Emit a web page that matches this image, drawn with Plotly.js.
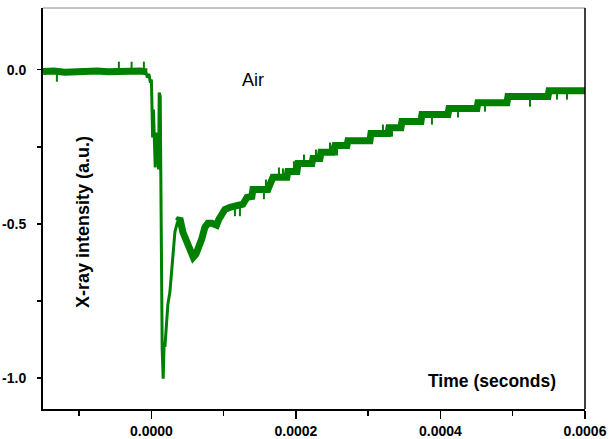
<!DOCTYPE html>
<html>
<head>
<meta charset="utf-8">
<script src="https://cdn.plot.ly/plotly-3.0.1.min.js"></script>
<style>html,body{margin:0;padding:0;background:#fff;}#chart{width:609px;height:439px;}</style>
</head>
<body>
<div id="chart"></div>
<script>
// Time values in microseconds, converted to seconds for the axis
// Baseline band (before the pulse)
const baseTimeUs = [-150, -135, -120, -105, -90, -75, -60, -45, -30, -15, -6];
const baseVal    = [-0.006, -0.004, -0.008, -0.005, -0.007, -0.004, -0.007, -0.005, -0.006, -0.004, -0.007];

// Fast drop and initial rebound (thin trace)
const dropTimeUs = [-7.6, -5.5, -3.5, -1.4, 0.0, 1.7, 2.8, 3.5, 5.3, 7.2, 9.0, 10.0, 10.8, 12.2, 13.1, 14.1, 14.9, 16.3, 17.6, 18.7, 21.0, 22.8, 25.6, 29.3, 32.5, 35.3, 38.1, 40.8];
const dropVal    = [-0.006, -0.026, -0.013, -0.042, -0.032, -0.220, -0.129, -0.184, -0.317, -0.204, -0.259, -0.323, -0.074, -0.087, -0.420, -0.679, -0.905, -1.002, -0.889, -0.899, -0.818, -0.760, -0.721, -0.605, -0.527, -0.501, -0.482, -0.498];

const recTimeUs = [36.7, 39.4, 43.6, 47.8, 50.9, 54.7, 57.9, 61.6, 64.8, 69.5, 74.0, 78.2, 83.7, 90.2, 93.4, 97.2, 101.7, 108.7, 117.0, 123.9, 126.6, 132.2, 139.1, 140.5, 161.2, 168.2, 187.5, 188.9, 201.4, 202.8, 222.1, 223.5, 233.2, 234.6, 251.2, 254.0, 270.6, 272.0, 302.4, 303.8, 327.3, 328.7, 345.3, 346.7, 373.0, 374.4, 410.4, 411.8, 450.5, 451.9, 492.0, 493.4, 548.8, 550.2, 600.0];
const recVal    = [-0.491, -0.482, -0.527, -0.550, -0.572, -0.598, -0.608, -0.598, -0.582, -0.550, -0.511, -0.498, -0.498, -0.504, -0.485, -0.469, -0.453, -0.446, -0.443, -0.440, -0.436, -0.414, -0.411, -0.388, -0.388, -0.349, -0.349, -0.330, -0.330, -0.304, -0.304, -0.288, -0.288, -0.268, -0.268, -0.246, -0.246, -0.230, -0.230, -0.207, -0.207, -0.188, -0.188, -0.168, -0.168, -0.145, -0.145, -0.126, -0.126, -0.107, -0.107, -0.087, -0.087, -0.068, -0.068];

// Noise spikes: time, band level, spike tip
const spikeTimeUs = [-130.8, -45.0, -27.4, -10.4, 115.6, 122.5, 155.7, 158.5, 176.5, 182.0, 197.2, 211.1, 227.7, 247.1, 256.8, 320.4, 332.9, 388.2, 424.2, 461.6, 523.9, 561.3, 575.1];
const spikeBase   = [-0.006, -0.006, -0.006, -0.006, -0.443, -0.440, -0.388, -0.388, -0.349, -0.349, -0.330, -0.304, -0.288, -0.268, -0.246, -0.207, -0.188, -0.145, -0.126, -0.107, -0.087, -0.068, -0.068];
const spikeTip    = [-0.039, 0.026, 0.026, 0.026, -0.475, -0.475, -0.420, -0.356, -0.317, -0.320, -0.297, -0.275, -0.259, -0.236, -0.278, -0.178, -0.217, -0.178, -0.155, -0.136, -0.120, -0.097, -0.097];

const xTickVals = [0, 0.0002, 0.0004, 0.0006];
const xTickText = ['0.0000', '0.0002', '0.0004', '0.0006'];
const yTickVals = [0, -0.5, -1.0];
const yTickText = ['0.0', '-0.5', '-1.0'];

const US = 1e-6;
const toS = a => a.map(v => v * US);
const GREEN = '#008000';
const bold = a => a.map(s => '<b>' + s + '</b>');

// spike segments separated by gaps
const spX = [], spY = [];
spikeTimeUs.forEach((t, i) => { spX.push(t * US, t * US, null); spY.push(spikeBase[i], spikeTip[i], null); });

const traces = [
  {x: toS(baseTimeUs), y: baseVal, mode: 'lines', line: {color: GREEN, width: 7}, hoverinfo: 'skip'},
  {x: toS(recTimeUs), y: recVal, mode: 'lines', line: {color: GREEN, width: 7}, hoverinfo: 'skip'},
  {x: toS(dropTimeUs), y: dropVal, mode: 'lines', line: {color: GREEN, width: 3}, hoverinfo: 'skip'},
  {x: spX, y: spY, mode: 'lines', connectgaps: false, line: {color: GREEN, width: 2}, hoverinfo: 'skip'}
];

const FONT = 'Liberation Sans, Arial, sans-serif';
const layout = {
  width: 609, height: 439,
  margin: {l: 43, r: 24, t: 8, b: 30, pad: 0},
  paper_bgcolor: '#fff', plot_bgcolor: '#fff',
  showlegend: false,
  font: {family: FONT, color: '#000'},
  xaxis: {
    range: [-0.00015, 0.0006], tickmode: 'array', tickvals: xTickVals, ticktext: bold(xTickText),
    ticks: 'outside', ticklen: 8, tickwidth: 1.5, tickcolor: '#000',
    showline: true, linecolor: '#000', linewidth: 2, showgrid: false, zeroline: false,
    tickfont: {family: FONT, size: 14, color: '#000'},
    ticklabelstandoff: 0,
    minor: {dtick: 0.0001, tick0: 0, ticks: 'outside', ticklen: 5, tickwidth: 1.5, tickcolor: '#000', showgrid: false}
  },
  yaxis: {
    range: [-1.1, 0.2], tickmode: 'array', tickvals: yTickVals, ticktext: bold(yTickText),
    ticks: 'outside', ticklen: 4, tickwidth: 1.5, tickcolor: '#000',
    showline: true, linecolor: '#000', linewidth: 2, showgrid: false, zeroline: false,
    tickfont: {family: FONT, size: 14, color: '#000'},
    ticklabelstandoff: 8,
    minor: {dtick: 0.25, tick0: 0, ticks: 'outside', ticklen: 4, tickwidth: 1.5, tickcolor: '#000', showgrid: false}
  },
  shapes: [
    {type: 'line', xref: 'paper', yref: 'paper', x0: 0, x1: 1, y0: 1, y1: 1, line: {color: '#888', width: 1}},
    {type: 'line', xref: 'paper', yref: 'paper', x0: 1, x1: 1, y0: 0, y1: 1, line: {color: '#000', width: 1.5}}
  ],
  annotations: [
    {text: 'Air', x: 0.0001405, y: -0.032, xref: 'x', yref: 'y', showarrow: false,
     font: {family: FONT, size: 18, color: '#000'}},
    {text: '<b>Time (seconds)</b>', x: 0.000562, y: -1.009, xref: 'x', yref: 'y', xanchor: 'right', showarrow: false,
     font: {family: FONT, size: 17.5, color: '#000'}},
    {text: '<b>X-ray intensity (a.u.)</b>', xref: 'paper', yref: 'paper', x: (71 - 43) / 542, y: (409 - 222) / 401,
     textangle: -90, showarrow: false, font: {family: FONT, size: 18, color: '#000'}}
  ]
};

Plotly.newPlot('chart', traces, layout, {staticPlot: true, displayModeBar: false});
</script>
</body>
</html>
